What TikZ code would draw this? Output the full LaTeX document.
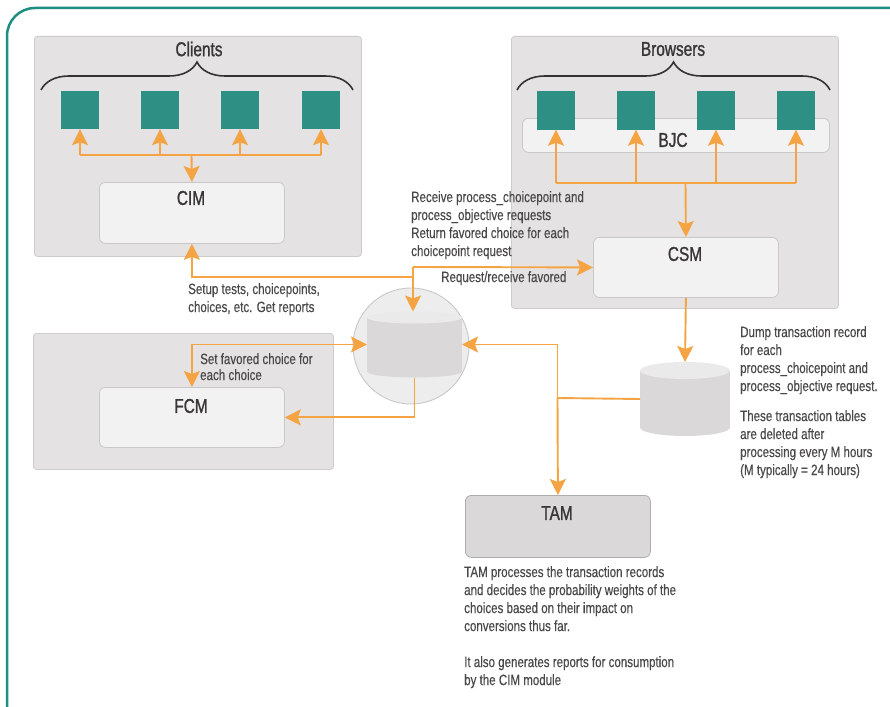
\documentclass[tikz,border=0pt]{standalone}
\usepackage{fontspec}
\setmainfont[FakeStretch=0.77, FakeBold=0.4]{Liberation Sans}
\newfontfamily\headfont[FakeStretch=0.77, FakeBold=1.2]{Liberation Sans}
\usetikzlibrary{arrows.meta,decorations.pathreplacing}
\definecolor{frameteal}{HTML}{1F8E82}
\definecolor{boxteal}{HTML}{2E9084}
\definecolor{flow}{HTML}{F5A443}
\definecolor{panelgray}{HTML}{E4E2E2}
\definecolor{paneledge}{HTML}{CDCBCB}
\definecolor{modfill}{HTML}{F3F2F2}
\definecolor{modedge}{HTML}{C9C7C7}
\definecolor{dbgray}{HTML}{DAD8D8}
\definecolor{inktext}{HTML}{4A4848}
\tikzset{
  panel/.style={fill=panelgray, draw=paneledge, line width=0.8pt, rounded corners=3pt, anchor=north west, inner sep=0pt},
  modbox/.style={fill=modfill, draw=modedge, line width=0.8pt, rounded corners=6pt, anchor=north west, inner sep=0pt},
  tambox/.style={modbox, fill=dbgray, draw=paneledge!85!black},
  client/.style={fill=boxteal, minimum size=38pt, inner sep=0pt},
  heading/.style={text=inktext!75!black, font=\headfont\fontsize{20}{23}\selectfont, inner sep=0pt},
  note/.style={text=inktext, font=\fontsize{15}{18}\selectfont, align=left, inner sep=0pt, anchor=north west},
  link/.style={draw=flow, line width=1.9pt},
  linkto/.style={link, -{Stealth[length=16pt, width=16pt, inset=3pt]}},
  linkboth/.style={link, {Stealth[length=16pt, width=16pt, inset=3pt]}-{Stealth[length=16pt, width=16pt, inset=3pt]}},
  dbslot/.style={inner sep=0pt, outer sep=0pt},
  brace/.style={draw=black!80, line width=1.6pt, decorate, decoration={brace, amplitude=28pt}}
}
% body and lighter lid of a database drum around a slot node
\newcommand\drawdb[3]{%
  \fill[dbgray] ([yshift=-#3]#1.north west) rectangle ([yshift=#3]#1.south east);
  \fill[dbgray] ([yshift=#3]#1.south) ellipse [x radius=#2, y radius=#3];
  \fill[dbgray!55!white] ([yshift=-#3]#1.north) ellipse [x radius=#2, y radius=#3];
}

\begin{document}
\begin{tikzpicture}[x=1pt, y=-1pt]
  \useasboundingbox (0,0) rectangle (890,706);
  \clip (0,0) rectangle (890,706);
  \draw[frameteal, line width=2.5pt, rounded corners=28pt] (7,8) rectangle (950,760);

  \node[panel, minimum width=327pt, minimum height=220pt] (clients)  at ( 34, 36) {};
  \node[panel, minimum width=327pt, minimum height=272pt] (browsers) at (511, 36) {};
  \node[panel, minimum width=300pt, minimum height=136pt] (fcmpanel) at ( 33,333) {};

  \node[modbox, minimum width=185pt, minimum height=61pt] (cim) at ( 99,182) {};
  \node[modbox, minimum width=185pt, minimum height=60pt] (csm) at (593,237) {};
  \node[modbox, minimum width=185pt, minimum height=60pt] (fcm) at ( 99,387) {};
  \node[modbox, minimum width=307pt, minimum height=34pt] (bjc) at (522,118) {};
  \node[tambox, minimum width=185pt, minimum height=62pt] (tam) at (465,495) {};

  \node[heading] (clientsname)  at (199, 49) {Clients};
  \node[heading] (browsersname) at (673, 49) {Browsers};
  \node[heading] (bjcname)      at (673,140) {BJC};
  \node[heading] (cimname)      at (191,198) {CIM};
  \node[heading] (csmname)      at (685,254) {CSM};
  \node[heading] (fcmname)      at (191,406) {FCM};
  \node[heading] (tamname)      at (557,513) {TAM};

  \draw[brace] ( 41,90) -- (353,90);
  \draw[brace] (517,90) -- (830,90);

  \foreach \x [count=\i] in {80,160,240,321}
    \node[client] (c\i) at (\x,110) {};
  \foreach \x [count=\i] in {556,636,716,796}
    \node[client] (b\i) at (\x,110.5) {};

  \fill[fill=modfill!70!panelgray, draw=modedge, line width=0.9pt] (411,346) circle (58pt);
  \node[dbslot, minimum width=95pt, minimum height=66pt] (db1) at (414.5,344.5) {};
  \node[dbslot, minimum width=90pt, minimum height=74pt] (db2) at (685,399) {};
  \drawdb{db1}{47.5pt}{6pt}
  \drawdb{db2}{45pt}{8.5pt}

  \coordinate (cbus) at (191.5,155);
  \coordinate (bbus) at (685.5,183);
  \draw[link] (c1.south |- cbus) -- (c4.south |- cbus);
  \draw[link] (b1.south |- bbus) -- (b4.south |- bbus);
  \foreach \i in {1,...,4} {
    \draw[linkto] (c\i.south |- cbus) -- (c\i.south);
    \draw[linkto] (b\i.south |- bbus) -- (b\i.south);
  }
  \draw[linkto] (cbus) -- (cim.north);
  \draw[linkto] (bbus) -- (csm.north);

  \coordinate (j1) at (413,267);
  \coordinate (j2) at (413,277);
  \coordinate (j4) at (557.5,398);
  \draw[linkto] (j1) -- (csm.west);
  \draw[linkto] (j1) -- (j1 |- db1.north);
  \draw[linkto] (j2) -| (cim.south);
  \draw[linkboth] (fcm.north) |- (db1.west);
  \draw[linkto] (db1.south) |- (fcm.east);
  \draw[linkto] (csm.south) -- (db2.north);
  \draw[link] (db2.west) -- (j4);
  \draw[linkto] (j4) |- (db1.east);
  \draw[linkto] (j4) -- (tam.north);

  \node[note] (setupnote) at (188,283) {Setup tests, choicepoints,\\choices, etc. Get reports};
  \node[note] (recvnote)  at (411,191) {Receive process\_choicepoint and\\process\_objective requests\\Return favored choice for each\\choicepoint request};
  \node[note] (reqnote)   at (441,271) {Request/receive favored};
  \node[note, font=\fontsize{15}{16}\selectfont] (setnote) at (200,353) {Set favored choice for\\each choice};
  \node[note] (dumpnote)  at (740,326) {Dump transaction record\\for each\\process\_choicepoint and\\process\_objective request.\\[12pt]These transaction tables\\are deleted after\\processing every M hours\\(M typically = 24 hours)};
  \node[note] (tamnote)   at (464,566) {TAM processes the transaction records\\and decides the probability weights of the\\choices based on their impact on\\conversions thus far.\\[18pt]It also generates reports for consumption\\by the CIM module};
\end{tikzpicture}
\end{document}
